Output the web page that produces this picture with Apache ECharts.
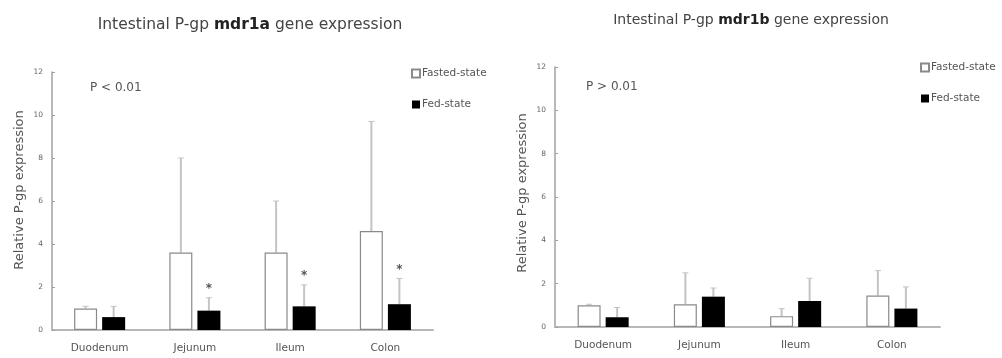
<!DOCTYPE html>
<html>
<head>
<meta charset="utf-8">
<script src="https://cdn.jsdelivr.net/npm/echarts@6/dist/echarts.min.js"></script>
<style>
  html, body { margin: 0; padding: 0; background: #fff; }
  #chart { width: 1002px; height: 358px; }
</style>
</head>
<body>
<div id="chart"></div>
<script>
// data
var categories = ["Duodenum", "Jejunum", "Ileum", "Colon"];
var yTicks = [0, 2, 4, 6, 8, 10, 12];

// mdr1a panel
var aFasted = [1.0, 3.6, 3.6, 4.6];
var aFastedErr = [0.1, 4.4, 2.4, 5.1];
var aFed = [0.6, 0.9, 1.1, 1.2];
var aFedErr = [0.5, 0.6, 1.0, 1.2];
var aFedStar = [0, 1, 1, 1];

// mdr1b panel
var bFasted = [1.0, 1.05, 0.5, 1.45];
var bFastedErr = [0.05, 1.45, 0.35, 1.15];
var bFed = [0.45, 1.4, 1.2, 0.85];
var bFedErr = [0.45, 0.4, 1.05, 1.0];
var bFedStar = [0, 0, 0, 0];

var FONT = "DejaVu Sans";
var BAR_W = 23;
var PAIR_OFF = 14;

function errData(vals, errs, stars) {
  return vals.map(function (v, i) { return [i, v, v + errs[i], stars[i]]; });
}

function errSeries(name, gi, vals, errs, stars, sign) {
  return {
    type: "custom",
    name: name + "-err",
    xAxisIndex: gi, yAxisIndex: gi,
    silent: true, z: 1,
    data: errData(vals, errs, stars),
    renderItem: function (params, api) {
      var p0 = api.coord([api.value(0), api.value(1)]);
      var p1 = api.coord([api.value(0), api.value(2)]);
      var x = p0[0] + sign * PAIR_OFF;
      var kids = [
        { type: "line", shape: { x1: x, y1: p0[1], x2: x, y2: p1[1] },
          style: { stroke: "#c4c4c4", lineWidth: 2 } },
        { type: "line", shape: { x1: x - 3, y1: p1[1], x2: x + 3, y2: p1[1] },
          style: { stroke: "#c4c4c4", lineWidth: 1 } }
      ];
      if (api.value(3)) {
        kids.push({ type: "text", x: x, y: p1[1] - 3,
          style: { text: "*", fill: "#555", font: "bold 12px " + FONT, align: "center", verticalAlign: "bottom" } });
      }
      return { type: "group", children: kids };
    }
  };
}

function barSeries(name, gi, vals, fasted) {
  return {
    type: "bar", name: name,
    xAxisIndex: gi, yAxisIndex: gi,
    barWidth: BAR_W, barGap: "22%", z: 2,
    itemStyle: fasted
      ? { color: "#fff", borderColor: "#8a8a8a", borderWidth: 1.2 }
      : { color: "#000" },
    data: vals
  };
}

function xAxis(gi) {
  return {
    type: "category", gridIndex: gi, data: categories,
    axisLine: { lineStyle: { color: "#b8b8b8", width: 2 } },
    axisTick: { show: false },
    axisLabel: { color: "#555", fontSize: 10.5, fontFamily: FONT, margin: 13 }
  };
}

function yAxis(gi) {
  return {
    type: "value", gridIndex: gi, min: yTicks[0], max: yTicks[yTicks.length - 1], interval: 2,
    axisLine: { show: true, lineStyle: { color: "#a0a0a0", width: 1.5 } },
    axisTick: { show: true, inside: true, length: 3, lineStyle: { color: "#a0a0a0" } },
    axisLabel: { color: "#666", fontSize: 7.5, fontFamily: FONT, margin: 9 },
    splitLine: { show: false }
  };
}

function legend(left, top) {
  return {
    orient: "vertical", left: left, top: top, itemGap: 20,
    itemWidth: 8, itemHeight: 8, icon: "rect",
    textStyle: { color: "#555", fontSize: 10.5, fontFamily: FONT, padding: [0, 0, 0, -3] },
    data: ["Fasted-state", "Fed-state"]
  };
}

function titleText(cx, cy, gene, size) {
  return {
    type: "text", x: cx, y: cy,
    style: {
      text: "Intestinal P-gp {b|" + gene + "} gene expression",
      align: "center", verticalAlign: "middle",
      fill: "#444", font: size + "px " + FONT,
      rich: { b: { fontSize: size, fontWeight: "bold", fill: "#222", fontFamily: FONT } }
    }
  };
}

function plainText(x, y, t) {
  return {
    type: "text", x: x, y: y,
    style: { text: t, fill: "#555", font: "12px " + FONT, verticalAlign: "middle" }
  };
}

function axisName(cx, cy) {
  return {
    type: "text", x: cx, y: cy, rotation: Math.PI / 2,
    style: { text: "Relative P-gp expression", fill: "#555", font: "13px " + FONT,
      align: "center", verticalAlign: "middle" }
  };
}

var chart = echarts.init(document.getElementById("chart"), null, { renderer: "canvas" });
chart.setOption({
  animation: false,
  backgroundColor: "#fff",
  graphic: [
    titleText(250, 25, "mdr1a", 15.5),
    titleText(751, 20, "mdr1b", 14),
    plainText(90, 88, "P < 0.01"),
    plainText(586, 87, "P > 0.01"),
    axisName(20, 190),
    axisName(523, 193)
  ],
  legend: [legend(406, 63), legend(915, 57)],
  grid: [
    { left: 52, top: 72, width: 381, height: 258 },
    { left: 555, top: 67, width: 385, height: 260 }
  ],
  xAxis: [xAxis(0), xAxis(1)],
  yAxis: [yAxis(0), yAxis(1)],
  series: [
    barSeries("Fasted-state", 0, aFasted, true),
    barSeries("Fed-state", 0, aFed, false),
    errSeries("Fasted-state", 0, aFasted, aFastedErr, [0, 0, 0, 0], -1),
    errSeries("Fed-state", 0, aFed, aFedErr, aFedStar, 1),
    barSeries("Fasted-state", 1, bFasted, true),
    barSeries("Fed-state", 1, bFed, false),
    errSeries("Fasted-state", 1, bFasted, bFastedErr, [0, 0, 0, 0], -1),
    errSeries("Fed-state", 1, bFed, bFedErr, bFedStar, 1)
  ]
});
</script>
</body>
</html>
